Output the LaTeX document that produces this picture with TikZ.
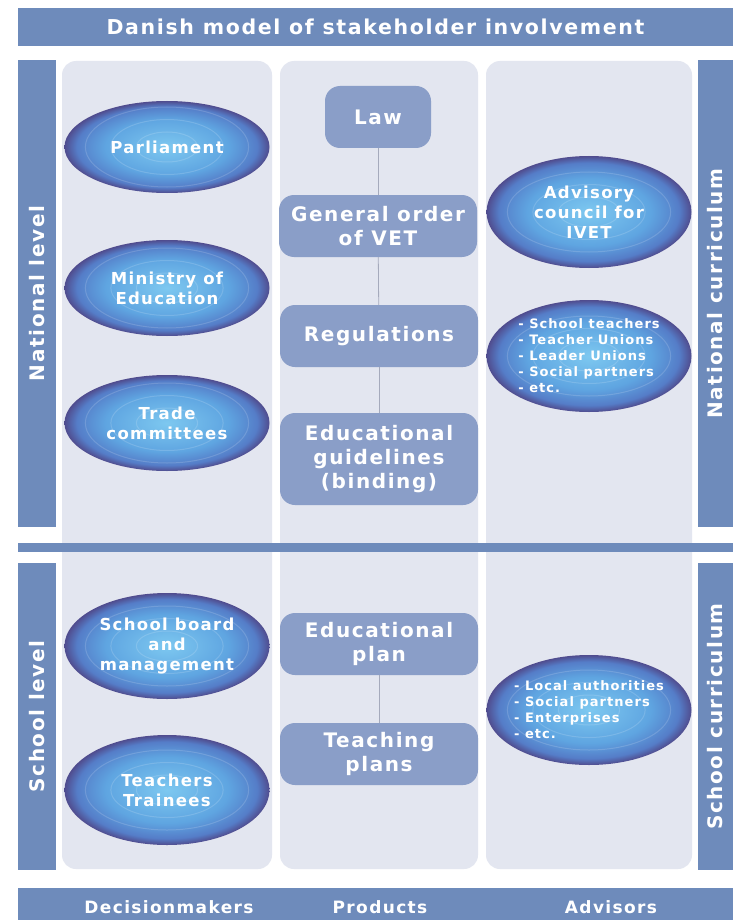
\documentclass[tikz,border=0pt]{standalone}
\usepackage{fontspec}
\usepackage{tikz}
\usetikzlibrary{positioning}
\usetikzlibrary{shapes.geometric}

\newfontfamily\dkfont{DejaVu Sans}[BoldFont={DejaVu Sans Bold}, LetterSpace=8]

\definecolor{bandblue}{RGB}{110,139,187}
\definecolor{prodblue}{RGB}{138,158,200}
\definecolor{panelgrey}{RGB}{227,230,240}
\definecolor{orbin}{RGB}{125,200,240}
\definecolor{orbmid}{RGB}{95,165,225}
\definecolor{orbedge}{RGB}{85,125,200}
\definecolor{orbout}{RGB}{80,76,142}
\definecolor{linkgrey}{RGB}{165,170,188}

\pgfdeclareradialshading{orbshade}{\pgfpoint{0bp}{0bp}}{%
  color(0bp)=(orbin); color(15bp)=(orbmid); color(22bp)=(orbedge);
  color(25bp)=(orbout); color(50bp)=(orbout)}

\tikzset{
  band/.style={fill=bandblue, text=white, inner sep=0pt,
    font=\dkfont\bfseries\fontsize{20}{22}\selectfont},
  panel/.style={fill=panelgrey, rounded corners=14pt, minimum width=206pt, minimum height=808pt},
  orb/.style={ellipse, shading=orbshade, text=white, inner sep=0pt,
    minimum width=205pt, minimum height=96pt, align=center,
    font=\dkfont\bfseries\fontsize{16.5}{20}\selectfont,
    path picture={
      \foreach \r in {0.3,0.55,0.8}
        \draw[white, opacity=0.15, line width=1pt] (path picture bounding box.center) ellipse ({\r*102pt} and {\r*50pt});
    }},
  orblist/.style={orb, align=left, inner xsep=-14pt, inner ysep=-8pt,
    font=\dkfont\bfseries\fontsize{13}{16}\selectfont},
  prod/.style={fill=prodblue, rounded corners=15pt, text=white, minimum width=198pt,
    minimum height=62pt, align=center, inner sep=0pt,
    font=\dkfont\bfseries\fontsize{20}{24}\selectfont},
  footlbl/.style={text=white, font=\dkfont\bfseries\fontsize{17}{18}\selectfont},
  link/.style={draw=linkgrey, line width=0.8pt}
}

\begin{document}
\begin{tikzpicture}[x=1pt, y=-1pt]
  \useasboundingbox[fill=white] (0,0) rectangle (733,920);

  % Paneles
  \node[panel, minimum width=210pt] (deciders) at (167,465) {};
  \node[panel, minimum width=198pt] (products) at (379,465) {};
  \node[panel] (advisors) at (589,465) {};

  % Barras
  \node[band, minimum width=715pt, minimum height=38pt, font=\dkfont\bfseries\fontsize{20.5}{24}\selectfont] (title) at (375.5,27) {Danish model of stakeholder involvement};
  \node[band, minimum width=715pt, minimum height=9pt] (divider) at (375.5,547.5) {};
  \node[band, minimum width=715pt, minimum height=32pt] (footer) at (375.5,904) {};
  \node[band, minimum width=467pt, minimum height=38pt, rotate=90] (natlevel) at (37,293.5) {National level};
  \node[band, minimum width=467pt, minimum height=35pt, rotate=90] (natcurr) at (715.5,293.5) {National curriculum};
  \node[band, minimum width=307pt, minimum height=38pt, rotate=90] (schlevel) at (37,716.5) {School level};
  \node[band, minimum width=307pt, minimum height=35pt, rotate=90] (schcurr) at (715.5,716.5) {School curriculum};

  % Pie
  \node[footlbl] (decisionmakers) at (169,907) {Decisionmakers};
  \node[footlbl] (productslbl) at (380,907) {Products};
  \node[footlbl] (advisorslbl) at (611,907) {Advisors};

  % Decisores
  \node[orb, minimum height=92pt] (parliament) at (167,147) {Parliament};
  \node[orb] (ministry) at (167,288) {Ministry of\\Education};
  \node[orb] (trade) at (167,423) {Trade\\committees};
  \node[orb, minimum height=106pt] (board) at (167,646) {School board\\and\\management};
  \node[orb, minimum height=110pt] (teachers) at (167,790) {Teachers\\Trainees};

  % Productos
  \node[prod, minimum width=106pt] (law) at (378,117) {Law};
  \node[prod] (genorder) at (378,226) {General order\\of VET};
  \node[prod] (regulations) at (379,336) {Regulations};
  \node[prod, minimum height=92pt] (guidelines) at (379,459) {Educational\\guidelines\\(binding)};
  \node[prod] (eduplan) at (379,644) {Educational\\plan};
  \node[prod] (teachplans) at (379,754) {Teaching\\plans};

  % Asesores
  \node[orb, minimum height=112pt] (council) at (589,212) {Advisory\\council for\\IVET};
  \node[orblist, minimum height=112pt] (natgroups) at (589,356) {- School teachers\\- Teacher Unions\\- Leader Unions\\- Social partners\\- etc.};
  \node[orblist, minimum height=110pt] (schgroups) at (589,710) {- Local authorities\\- Social partners\\- Enterprises\\- etc.};

  % Lineas
  \draw[link] (law) -- (genorder);
  \draw[link] (genorder) -- (regulations);
  \draw[link] (regulations) -- (guidelines);
  \draw[link] (eduplan) -- (teachplans);
\end{tikzpicture}
\end{document}
